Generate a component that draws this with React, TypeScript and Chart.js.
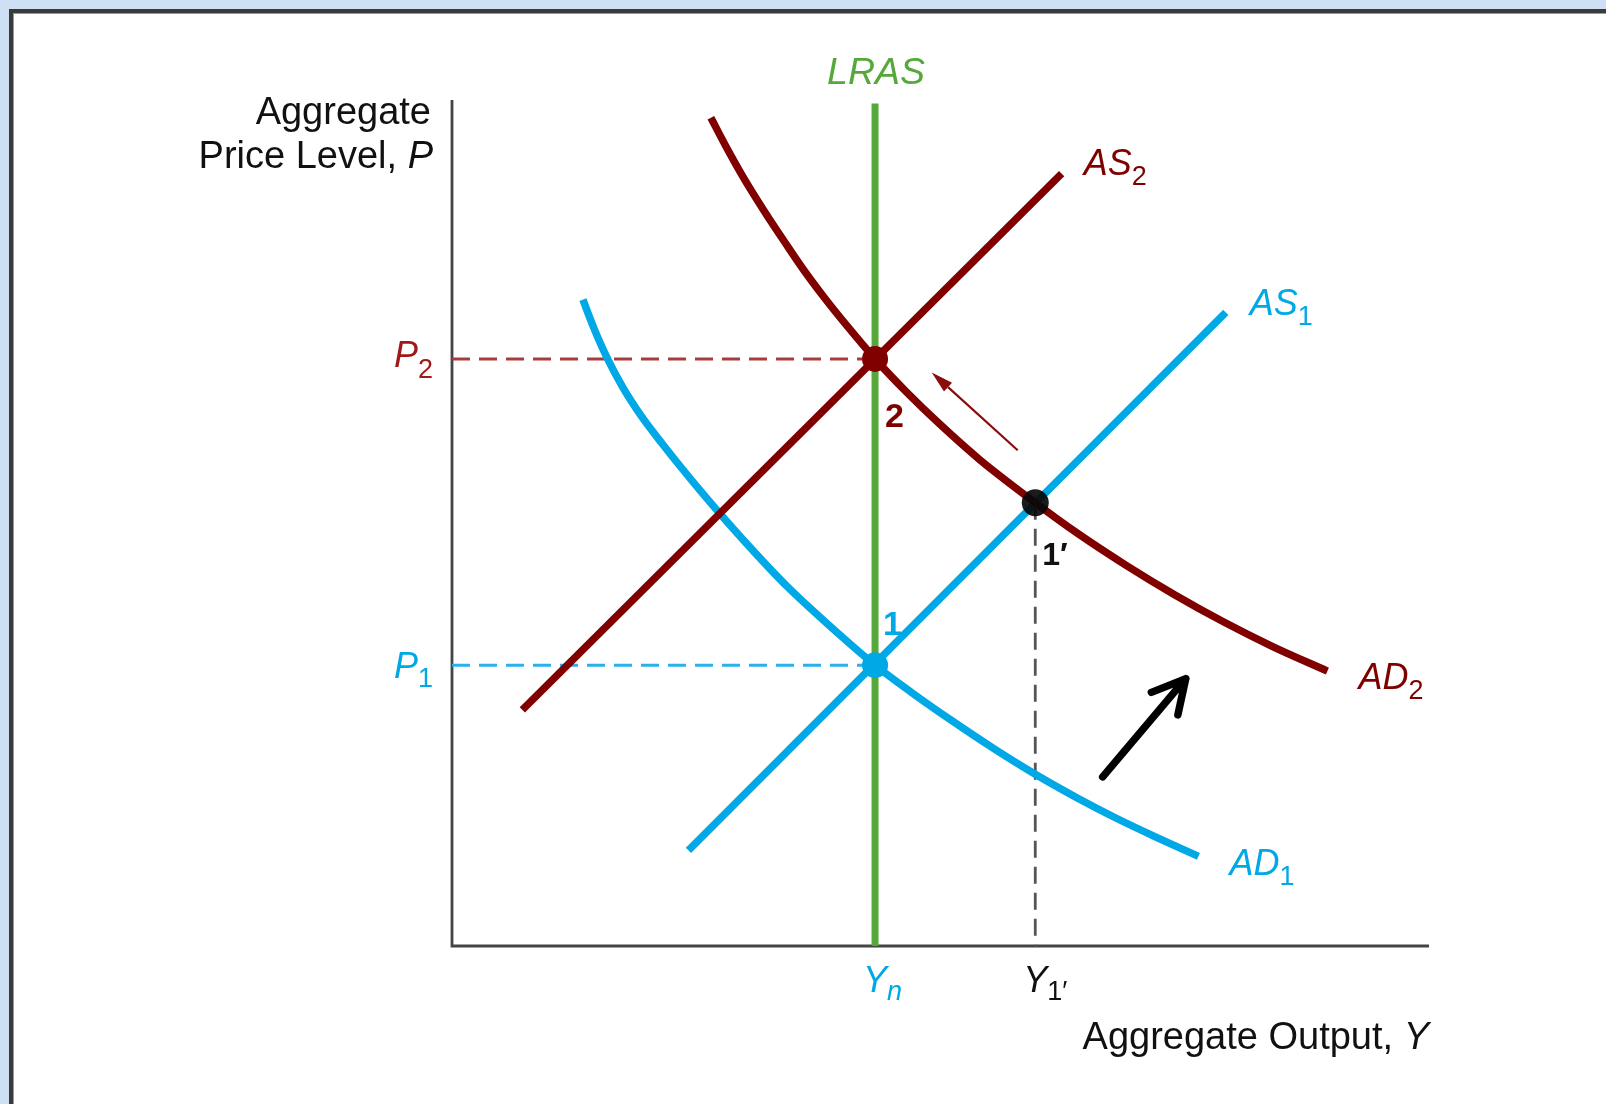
import React, { useEffect, useRef } from "react";
import { Chart, registerables } from "chart.js";

Chart.register(...registerables);

// ---------- data (arbitrary units: output 0..100, price level 0..100) ----------
const X_MIN = 0;
const X_MAX = 100;
const Y_MIN = 0;
const Y_MAX = 100;

const Y_N = 43.3; // natural rate of output
const Y_1P = 59.7; // output at point 1'
const P_1 = 33.2; // price level at point 1
const P_2 = 69.4; // price level at point 2
const P_1P = 52.4; // price level at point 1'
const LRAS_TOP = 99.6;

const AS1_X = [24.2, 79.2];
const AS1_Y = [11.3, 74.9];
const AS2_X = [7.2, 62.4];
const AS2_Y = [27.9, 91.3];

const AD1_X = [13.4, 14.5, 15.8, 17.5, 19.4, 21.5, 23.5, 25.5, 27.5, 31.0, 34.3, 38.5, 43.3, 47.0, 51.2, 55.5, 59.7, 64.0, 68.0, 72.0, 76.4];
const AD1_Y = [76.4, 73.1, 69.7, 66.0, 62.6, 59.4, 56.5, 53.7, 51.0, 46.5, 42.5, 38.0, 33.2, 30.0, 26.6, 23.3, 20.3, 17.5, 15.1, 12.9, 10.6];

const AD2_X = [26.5, 28.0, 30.0, 32.0, 34.0, 36.0, 38.0, 40.5, 43.3, 46.5, 50.0, 54.0, 59.7, 64.0, 69.0, 74.0, 79.0, 84.0, 89.6];
const AD2_Y = [97.9, 94.6, 90.5, 86.8, 83.3, 79.9, 76.8, 73.2, 69.4, 65.5, 61.6, 57.5, 52.4, 48.8, 45.0, 41.5, 38.3, 35.4, 32.5];

const POINT_NAMES = ["1", "2", "1′"];
const POINT_X = [Y_N, Y_N, Y_1P];
const POINT_Y = [P_1, P_2, P_1P];

const SHIFT_ARROW_X = [66.6, 75.1];
const SHIFT_ARROW_Y = [20.0, 31.6];
const MOVE_ARROW_X = [57.9, 49.1];
const MOVE_ARROW_Y = [58.6, 67.8];

const Y_TITLE = ["Aggregate", "Price Level, "];
const Y_TITLE_VAR = "P";
const X_TITLE = "Aggregate Output, ";
const X_TITLE_VAR = "Y";

// ---------- styles ----------
const RED = "#800000";
const BLUE = "#00a9e6";
const GREEN = "#55a83a";
const AXIS = "#444444";
const FONT = '"Liberation Sans", Arial, Helvetica, sans-serif';
const TITLE = 38;
const MAIN = 36;
const SUB = 27;

const pts = (xs: number[], ys: number[]) => xs.map((x, i) => ({ x, y: ys[i] }));

type Part = { t: string; italic?: boolean; bold?: boolean; size: number; dy?: number };

function fontOf(p: Part) {
  return `${p.italic ? "italic " : ""}${p.bold ? "bold " : ""}${p.size}px ${FONT}`;
}

function drawRich(
  ctx: CanvasRenderingContext2D,
  parts: Part[],
  x: number,
  y: number,
  align: "left" | "right" | "firstCenter",
  color: string
) {
  ctx.save();
  ctx.fillStyle = color;
  ctx.textBaseline = "alphabetic";
  ctx.textAlign = "left";
  const widths = parts.map((p) => {
    ctx.font = fontOf(p);
    return ctx.measureText(p.t).width;
  });
  const total = widths.reduce((a, b) => a + b, 0);
  let cx = x;
  if (align === "right") cx = x - total;
  if (align === "firstCenter") cx = x - widths[0] / 2;
  parts.forEach((p, i) => {
    ctx.font = fontOf(p);
    ctx.fillText(p.t, cx, y + (p.dy || 0));
    cx += widths[i];
  });
  ctx.restore();
}

const annotate = {
  id: "annotate",
  afterDatasetsDraw(chart: any) {
    const ctx: CanvasRenderingContext2D = chart.ctx;
    const xs = chart.scales.x;
    const ys = chart.scales.y;
    const X = (v: number) => xs.getPixelForValue(v);
    const Y = (v: number) => ys.getPixelForValue(v);

    // axis titles
    drawRich(ctx, [{ t: Y_TITLE[0], size: TITLE }], X(X_MIN) - 21, Y(Y_MAX) + 24, "right", "#111");
    drawRich(
      ctx,
      [
        { t: Y_TITLE[1], size: TITLE },
        { t: Y_TITLE_VAR, size: TITLE, italic: true },
      ],
      X(X_MIN) - 19,
      Y(Y_MAX) + 68,
      "right",
      "#111"
    );
    drawRich(
      ctx,
      [
        { t: X_TITLE, size: TITLE },
        { t: X_TITLE_VAR, size: TITLE, italic: true },
      ],
      X(X_MAX),
      Y(Y_MIN) + 103,
      "right",
      "#111"
    );

    // LRAS
    ctx.save();
    ctx.font = `italic 37.5px ${FONT}`;
    ctx.fillStyle = GREEN;
    ctx.textAlign = "center";
    ctx.fillText("LRAS", X(Y_N) + 1, Y(LRAS_TOP) - 19);
    ctx.restore();

    // price labels
    drawRich(
      ctx,
      [
        { t: "P", size: MAIN, italic: true },
        { t: "2", size: SUB, dy: 11 },
      ],
      X(X_MIN) - 19,
      Y(P_2) + 8,
      "right",
      "#a01818"
    );
    drawRich(
      ctx,
      [
        { t: "P", size: MAIN, italic: true },
        { t: "1", size: SUB, dy: 9 },
      ],
      X(X_MIN) - 19,
      Y(P_1) + 13,
      "right",
      BLUE
    );

    // output labels
    drawRich(
      ctx,
      [
        { t: "Y", size: MAIN, italic: true },
        { t: "n", size: SUB, italic: true, dy: 8 },
      ],
      X(Y_N),
      Y(Y_MIN) + 46,
      "firstCenter",
      BLUE
    );
    drawRich(
      ctx,
      [
        { t: "Y", size: MAIN, italic: true },
        { t: "1′", size: SUB, dy: 8 },
      ],
      X(Y_1P),
      Y(Y_MIN) + 46,
      "firstCenter",
      "#111"
    );

    // curve labels
    const lastX = (a: number[]) => a[a.length - 1];
    drawRich(
      ctx,
      [
        { t: "AS", size: MAIN, italic: true },
        { t: "2", size: SUB, dy: 10 },
      ],
      X(lastX(AS2_X)) + 22,
      Y(lastX(AS2_Y)) + 1,
      "left",
      RED
    );
    drawRich(
      ctx,
      [
        { t: "AS", size: MAIN, italic: true },
        { t: "1", size: SUB, dy: 10 },
      ],
      X(lastX(AS1_X)) + 24,
      Y(lastX(AS1_Y)) + 3,
      "left",
      BLUE
    );
    drawRich(
      ctx,
      [
        { t: "AD", size: MAIN, italic: true },
        { t: "2", size: SUB, dy: 10 },
      ],
      X(lastX(AD2_X)) + 31,
      Y(lastX(AD2_Y)) + 18,
      "left",
      RED
    );
    drawRich(
      ctx,
      [
        { t: "AD", size: MAIN, italic: true },
        { t: "1", size: SUB, dy: 10 },
      ],
      X(lastX(AD1_X)) + 31,
      Y(lastX(AD1_Y)) + 19,
      "left",
      BLUE
    );

    // point labels
    drawRich(ctx, [{ t: POINT_NAMES[0], size: 34, bold: true }], X(POINT_X[0]) + 8, Y(POINT_Y[0]) - 30, "left", BLUE);
    drawRich(ctx, [{ t: POINT_NAMES[1], size: 34, bold: true }], X(POINT_X[1]) + 10, Y(POINT_Y[1]) + 68, "left", RED);
    drawRich(ctx, [{ t: POINT_NAMES[2], size: 32, bold: true }], X(POINT_X[2]) + 7, Y(POINT_Y[2]) + 62, "left", "#111");

    // small red arrow (movement along AD2)
    {
      const x0 = X(MOVE_ARROW_X[0]);
      const y0 = Y(MOVE_ARROW_Y[0]);
      const x1 = X(MOVE_ARROW_X[1]);
      const y1 = Y(MOVE_ARROW_Y[1]);
      const ang = Math.atan2(y1 - y0, x1 - x0);
      const len = 22;
      const hw = 6;
      const bx = x1 - len * Math.cos(ang);
      const by = y1 - len * Math.sin(ang);
      ctx.save();
      ctx.strokeStyle = "#8a0c0c";
      ctx.fillStyle = "#8a0c0c";
      ctx.lineWidth = 2.2;
      ctx.beginPath();
      ctx.moveTo(x0, y0);
      ctx.lineTo(bx, by);
      ctx.stroke();
      ctx.beginPath();
      ctx.moveTo(x1, y1);
      ctx.lineTo(bx + hw * Math.sin(ang), by - hw * Math.cos(ang));
      ctx.lineTo(bx - hw * Math.sin(ang), by + hw * Math.cos(ang));
      ctx.closePath();
      ctx.fill();
      ctx.restore();
    }

    // black arrow (AD shift)
    {
      const x0 = X(SHIFT_ARROW_X[0]);
      const y0 = Y(SHIFT_ARROW_Y[0]);
      const x1 = X(SHIFT_ARROW_X[1]);
      const y1 = Y(SHIFT_ARROW_Y[1]);
      const ang = Math.atan2(y1 - y0, x1 - x0);
      const arm = 37;
      const spread = (28 * Math.PI) / 180;
      ctx.save();
      ctx.strokeStyle = "#000";
      ctx.lineWidth = 7.5;
      ctx.lineCap = "round";
      ctx.lineJoin = "round";
      ctx.beginPath();
      ctx.moveTo(x0, y0);
      ctx.lineTo(x1, y1);
      ctx.moveTo(x1 - arm * Math.cos(ang - spread), y1 - arm * Math.sin(ang - spread));
      ctx.lineTo(x1, y1);
      ctx.lineTo(x1 - arm * Math.cos(ang + spread), y1 - arm * Math.sin(ang + spread));
      ctx.stroke();
      ctx.restore();
    }
  },
};

export default function App() {
  const ref = useRef<HTMLCanvasElement | null>(null);

  useEffect(() => {
    if (!ref.current) return;
    const lineDs = (data: any[], color: string, width: number, order: number, extra: any = {}) => ({
      type: "line",
      data,
      borderColor: color,
      backgroundColor: color,
      borderWidth: width,
      pointRadius: 0,
      showLine: true,
      fill: false,
      clip: false,
      order,
      tension: 0,
      borderCapStyle: "butt",
      borderJoinStyle: "round",
      ...extra,
    });

    const chart = new Chart(ref.current, {
      type: "scatter",
      data: {
        datasets: [
          // equilibrium points
          {
            data: [{ x: POINT_X[0], y: POINT_Y[0] }],
            backgroundColor: BLUE,
            borderWidth: 0,
            pointRadius: 13,
            order: 0,
            clip: false,
          },
          {
            data: [{ x: POINT_X[1], y: POINT_Y[1] }],
            backgroundColor: RED,
            borderWidth: 0,
            pointRadius: 13,
            order: 0,
            clip: false,
          },
          {
            data: [{ x: POINT_X[2], y: POINT_Y[2] }],
            backgroundColor: "rgba(8,8,8,0.92)",
            borderWidth: 0,
            pointRadius: 13.5,
            order: 0,
            clip: false,
          },
          lineDs(pts(AS2_X, AS2_Y), RED, 7.5, 1),
          lineDs(pts(AD2_X, AD2_Y), RED, 7.5, 1, { cubicInterpolationMode: "monotone" }),
          lineDs(pts(AS1_X, AS1_Y), BLUE, 7.5, 2),
          lineDs(pts(AD1_X, AD1_Y), BLUE, 7.5, 2, { cubicInterpolationMode: "monotone" }),
          lineDs(
            [
              { x: Y_N, y: Y_MIN },
              { x: Y_N, y: LRAS_TOP },
            ],
            GREEN,
            7,
            3
          ),
          lineDs(
            [
              { x: X_MIN, y: P_2 },
              { x: Y_N, y: P_2 },
            ],
            "#a83c3c",
            3,
            4,
            { borderDash: [18, 9] }
          ),
          lineDs(
            [
              { x: X_MIN, y: P_1 },
              { x: Y_N, y: P_1 },
            ],
            "#2ab0ea",
            3,
            4,
            { borderDash: [18, 9] }
          ),
          lineDs(
            [
              { x: Y_1P, y: P_1P },
              { x: Y_1P, y: Y_MIN },
            ],
            "#555555",
            2.8,
            4,
            { borderDash: [17, 9] }
          ),
          lineDs(
            [
              { x: X_MIN, y: Y_MAX },
              { x: X_MIN, y: Y_MIN },
              { x: X_MAX, y: Y_MIN },
            ],
            AXIS,
            2.8,
            5,
            { borderJoinStyle: "miter" }
          ),
        ] as any,
      },
      options: {
        animation: false,
        responsive: false,
        devicePixelRatio: 1,
        layout: { padding: { left: 452, right: 177, top: 100, bottom: 158 } },
        scales: {
          x: { type: "linear", min: X_MIN, max: X_MAX, display: false },
          y: { type: "linear", min: Y_MIN, max: Y_MAX, display: false },
        },
        plugins: {
          legend: { display: false },
          tooltip: { enabled: false },
        },
        events: [],
      },
      plugins: [annotate],
    } as any);

    return () => chart.destroy();
  }, []);

  return (
    <div
      style={{
        position: "fixed",
        left: 0,
        top: 0,
        width: 1606,
        height: 1104,
        background: "#cde0f4",
        overflow: "hidden",
      }}
    >
      <div
        style={{
          position: "absolute",
          left: 9,
          top: 9,
          width: 1700,
          height: 1200,
          background: "#ffffff",
          borderLeft: "4px solid #3a3a3a",
          borderTop: "4px solid #3a3a3a",
          boxShadow: "inset 1px 1px 0 #9a9a9a",
        }}
      />
      <canvas
        ref={ref}
        width={1606}
        height={1104}
        style={{ position: "absolute", left: 0, top: 0, width: 1606, height: 1104 }}
      />
    </div>
  );
}
